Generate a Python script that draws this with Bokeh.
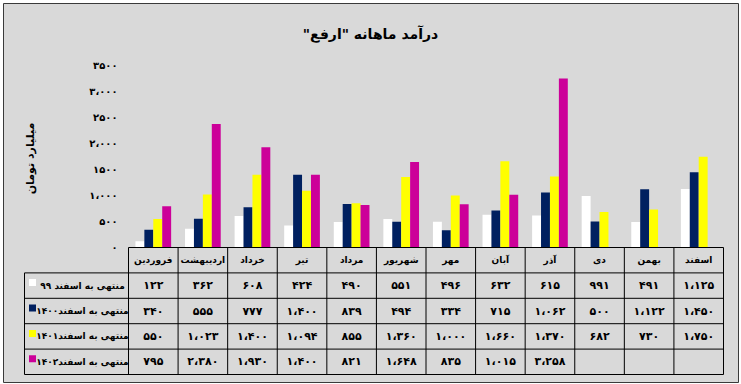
import math
from bokeh.plotting import figure
from bokeh.models import Range1d
from bokeh.embed import file_html
from bokeh.resources import INLINE
from bokeh.core.properties import value

# ---------------- data ----------------
months = ["فروردین", "اردیبهشت", "خرداد", "تیر", "مرداد", "شهریور",
          "مهر", "آبان", "آذر", "دی", "بهمن", "اسفند"]
series_names = ["منتهی به اسفند ۹۹", "منتهی به اسفند۱۴۰۰",
                "منتهی به اسفند۱۴۰۱", "منتهی به اسفند۱۴۰۲"]
s99 = [122, 362, 608, 424, 490, 551, 496, 632, 615, 991, 491, 1125]
s1400 = [340, 555, 777, 1400, 839, 494, 334, 715, 1062, 500, 1122, 1450]
s1401 = [550, 1023, 1400, 1094, 855, 1360, 1000, 1660, 1370, 682, 730, 1750]
s1402 = [795, 2380, 1930, 1400, 821, 1648, 835, 1015, 3258, None, None, None]
series = [s99, s1400, s1401, s1402]
colors = ["#ffffff", "#002060", "#ffff00", "#cc0099"]
y_ticks = [0, 500, 1000, 1500, 2000, 2500, 3000, 3500]
y_tick_labels = ["۰", "۵۰۰", "۱،۰۰۰", "۱۵۰۰", "۲،۰۰۰", "۲۵۰۰", "۳،۰۰۰", "۳۵۰۰"]
title_text = 'درآمد ماهانه "ارفع"\u200f'
y_label = "میلیارد تومان"

FONT = "DejaVu Sans"
BG = "#d9d9d9"
FA = str.maketrans("0123456789,", "۰۱۲۳۴۵۶۷۸۹،")


def fa(n):
    return f"{n:,}".translate(FA)


# ---------------- canvas geometry (pixels) ----------------
W, H = 741, 384
n = len(months)
plot_l, plot_r = 128, 723          # category area
base_y = 247                       # value 0 / table top
px_per_val = 0.0519                # pixels per unit value
px_per_cat = (plot_r - plot_l) / n

p = figure(width=W, height=H, x_range=Range1d(0, W), y_range=Range1d(H, 0),
           output_backend="svg", toolbar_location=None, x_axis_type=None,
           y_axis_type=None, min_border=0, background_fill_color="#ffffff",
           border_fill_color="#ffffff", outline_line_color=None)
p.grid.visible = False
p.extra_x_ranges = {"cat": Range1d(-plot_l / px_per_cat, n + (W - plot_r) / px_per_cat)}
p.extra_y_ranges = {"val": Range1d(-(H - base_y) / px_per_val, base_y / px_per_val)}

# chart box
p.quad(left=[3], right=[738], top=[3], bottom=[382], fill_color=BG,
       line_color="#3a3a3a", line_width=1)

# title
p.text(x=[370], y=[33], text=[title_text], text_font=value(FONT),
       text_font_size="14px", text_font_style="bold", text_align="center",
       text_baseline="middle", text_color="black")

# y-axis label
p.text(x=[30], y=[158], text=[y_label], angle=math.pi / 2, text_font=value(FONT),
       text_font_size="11px", text_font_style="bold", text_align="center",
       text_baseline="middle", text_color="black")

# y tick labels (value scale)
p.text(x=[117] * len(y_ticks), y=y_ticks, y_range_name="val", text=y_tick_labels,
       text_font=value(FONT), text_font_size="10px", text_font_style="bold",
       text_align="right", text_baseline="middle", text_color="black")

# bars
bw = 0.18
for k, (vals, col) in enumerate(zip(series, colors)):
    xs = [i + 0.5 + (k - 1.5) * bw for i, v in enumerate(vals) if v is not None]
    tops = [v for v in vals if v is not None]
    p.vbar(x=xs, top=tops, width=bw, bottom=0, fill_color=col, line_color=None,
           x_range_name="cat", y_range_name="val")

# ---------------- table ----------------
row_h = 25.4
nrows = 1 + len(series)
label_left = (24 - plot_l) / px_per_cat
bottom_y = base_y + row_h * nrows

hx0, hx1, hy = [0], [n], [base_y]
for r in range(1, nrows + 1):
    hx0.append(label_left); hx1.append(n); hy.append(base_y + r * row_h)
p.segment(x0=hx0, x1=hx1, y0=hy, y1=hy, line_color="black", line_width=1,
          x_range_name="cat")
vx, vy0, vy1 = [], [], []
for i in range(n + 1):
    vx.append(i); vy0.append(base_y); vy1.append(bottom_y)
vx.append(label_left); vy0.append(base_y + row_h); vy1.append(bottom_y)
p.segment(x0=vx, x1=vx, y0=vy0, y1=vy1, line_color="black", line_width=1,
          x_range_name="cat")

# header
p.text(x=[i + 0.5 for i in range(n)], y=[base_y + row_h / 2] * n, text=months,
       x_range_name="cat", text_font=value(FONT), text_font_size="9px",
       text_font_style="bold", text_align="center", text_baseline="middle",
       text_color="black")

# values
for k, vals in enumerate(series):
    yc = base_y + row_h * (k + 1.5)
    xs = [i + 0.5 for i, v in enumerate(vals) if v is not None]
    txt = [fa(v) for v in vals if v is not None]
    p.text(x=xs, y=[yc] * len(xs), text=txt, x_range_name="cat",
           text_font=value(FONT), text_font_size="11px", text_font_style="bold",
           text_align="center", text_baseline="middle", text_color="black")

# row labels with colour keys
for k, (name, col) in enumerate(zip(series_names, colors)):
    yc = base_y + row_h * (k + 1.5)
    p.rect(x=[32], y=[yc - 3], width=7, height=7, fill_color=col, line_color=None)
    p.text(x=[82], y=[yc], text=[name], text_font=value(FONT),
           text_font_size="9px", text_font_style="bold", text_align="center",
           text_baseline="middle", text_color="black")

open("out.html", "w").write(file_html(p, INLINE))
